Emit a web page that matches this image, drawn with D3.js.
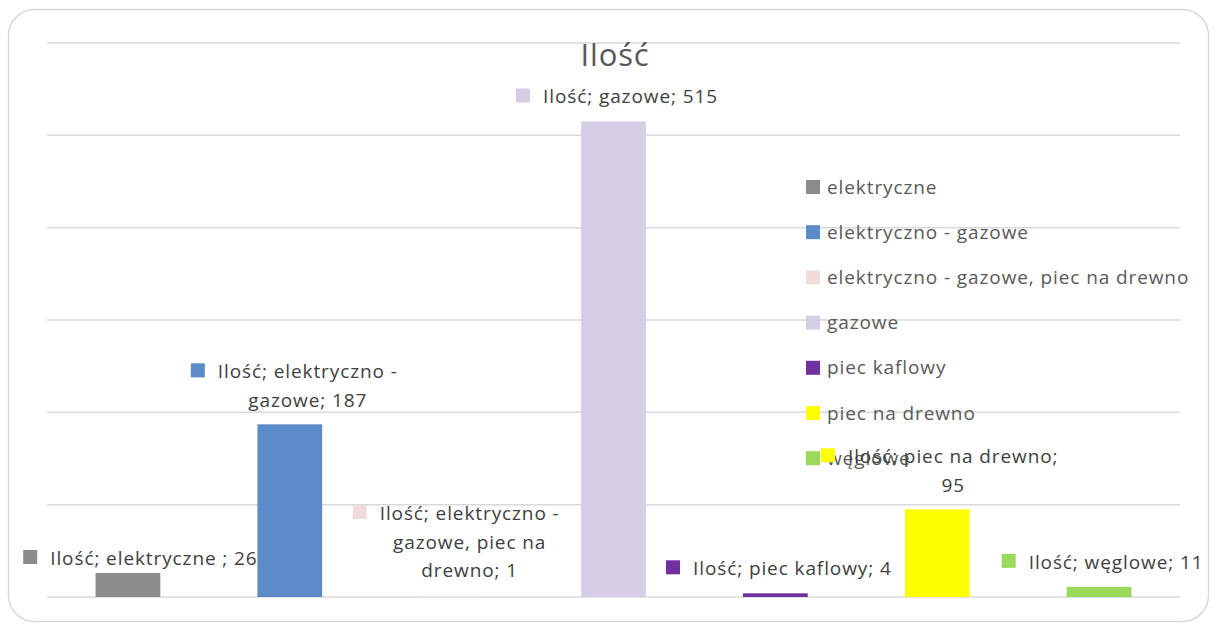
<meta charset="utf-8">
<style>
  body { margin: 0; background: #fff; }
  text { font-family: "Open Sans", Lato, sans-serif; }
</style>
<svg width="1217" height="625"></svg>
<script src="https://d3js.org/d3.v7.min.js"></script>
<script>
// chart data
var categories = ["elektryczne", "elektryczno - gazowe", "elektryczno - gazowe, piec na drewno",
                  "gazowe", "piec kaflowy", "piec na drewno", "węglowe"];
var values = [26, 187, 1, 515, 4, 95, 11];
var colors = ["#8c8c8c", "#5b8bc8", "#f2dcdb", "#d6cde6", "#7030a0", "#ffff00", "#9ad95a"];
var yTicks = [0, 100, 200, 300, 400, 500, 600];
var seriesName = "Ilość";

// how Excel wrapped each data label
var labelLines = [
  ["Ilość; elektryczne ; 26"],
  ["Ilość; elektryczno -", "gazowe; 187"],
  ["Ilość; elektryczno -", "gazowe, piec na", "drewno; 1"],
  ["Ilość; gazowe; 515"],
  ["Ilość; piec kaflowy; 4"],
  ["Ilość; piec na drewno;", "95"],
  ["Ilość; węglowe; 11"]
];
// label offsets from bar centre / bar top
var labelOffset = [[26, -8], [18, -46], [18, -76], [17, -18], [17, -18], [16, -46], [17, -18]];

var svg = d3.select("svg"),
    width = +svg.attr("width"),
    height = +svg.attr("height"),
    margin = {top: 43, right: 37, bottom: 28, left: 47};

// outer frame
svg.append("rect")
    .attr("x", 8.5).attr("y", 9.5)
    .attr("width", 1200).attr("height", 612)
    .attr("rx", 26).attr("ry", 26)
    .attr("fill", "#fff")
    .attr("stroke", "#d9d9d9")
    .attr("stroke-width", 1.5);

var x = d3.scaleBand()
    .domain(categories)
    .range([margin.left, width - margin.right])
    .paddingInner(0.6)
    .paddingOuter(0.3);

var y = d3.scaleLinear()
    .domain([0, 600])
    .range([height - margin.bottom, margin.top]);

// gridlines
svg.append("g")
  .selectAll("line")
  .data(yTicks)
  .enter().append("line")
    .attr("x1", margin.left)
    .attr("x2", width - margin.right)
    .attr("y1", function(d) { return y(d); })
    .attr("y2", function(d) { return y(d); })
    .attr("stroke", "#d9d9d9")
    .attr("stroke-width", 1.5);

// bars
svg.append("g")
  .selectAll("rect")
  .data(values)
  .enter().append("rect")
    .attr("x", function(d, i) { return x(categories[i]); })
    .attr("y", function(d) { return y(d); })
    .attr("width", x.bandwidth())
    .attr("height", function(d) { return y(0) - y(d); })
    .attr("fill", function(d, i) { return colors[i]; });

// title
svg.append("text")
    .attr("x", 615)
    .attr("y", 66)
    .attr("text-anchor", "middle")
    .attr("font-size", "31px")
    .attr("letter-spacing", "0.8px")
    .attr("fill", "#595959")
    .text(seriesName);

// legend
var legend = svg.append("g")
  .selectAll("g")
  .data(categories)
  .enter().append("g")
    .attr("transform", function(d, i) { return "translate(806," + (187 + i * 45.2) + ")"; });

legend.append("rect")
    .attr("y", -7)
    .attr("width", 14).attr("height", 14)
    .attr("fill", function(d, i) { return colors[i]; });

legend.append("text")
    .attr("x", 21)
    .attr("y", 6.5)
    .attr("font-size", "19px")
    .attr("letter-spacing", "0.9px")
    .attr("fill", "#595959")
    .text(function(d) { return d; });

// data labels
values.forEach(function(v, i) {
  var cx = x(categories[i]) + x.bandwidth() / 2 + labelOffset[i][0],
      by = y(v) + labelOffset[i][1];
  var g = svg.append("g");
  var first = null;
  labelLines[i].forEach(function(line, k) {
    var t = g.append("text")
        .attr("x", cx)
        .attr("y", by + k * 28.5)
        .attr("text-anchor", "middle")
        .attr("font-size", "19px")
        .attr("letter-spacing", "0.9px")
        .attr("fill", "#404040")
        .text(line);
    if (k === 0) first = t;
  });
  var w = first.node().getComputedTextLength();
  g.append("rect")
      .attr("x", cx - w / 2 - 27)
      .attr("y", by - 15)
      .attr("width", 14).attr("height", 14)
      .attr("fill", colors[i]);
});
</script>
